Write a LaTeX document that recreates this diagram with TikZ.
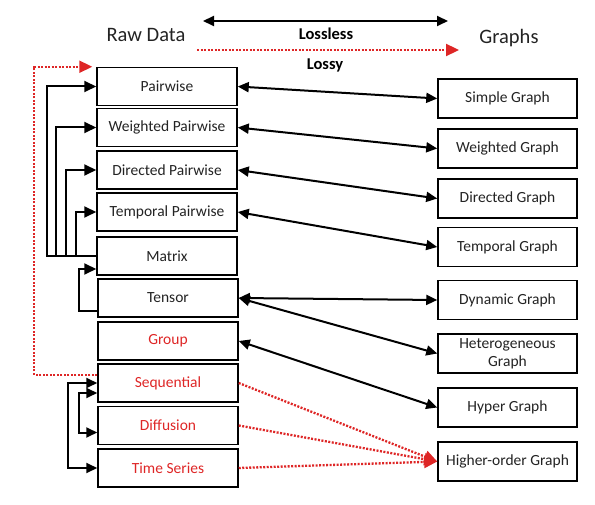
\documentclass[tikz,border=0pt]{standalone}
\usepackage{fontspec}
\setmainfont{Carlito}
\usetikzlibrary{arrows.meta}
\definecolor{lossred}{RGB}{222,38,38}
\definecolor{boxtxt}{RGB}{35,35,35}

\begin{document}
\begin{tikzpicture}[x=1pt,y=-1pt,
  raw/.style={draw,line width=1.5pt,minimum width=140pt,minimum height=38pt,inner sep=0pt,text=boxtxt,font=\fontsize{15.5}{18}\selectfont},
  gph/.style={raw,minimum width=139pt,minimum height=39pt,align=center},
  redtxt/.style={text=lossred},
  conv/.style={line width=2pt,{Triangle[length=11pt,width=10pt]}-{Triangle[length=11pt,width=10pt]}},
  feed/.style={line width=2pt,-{Triangle[length=12pt,width=11pt]}},
  lossy/.style={lossred,line width=2.3pt,dash pattern=on 2pt off 1.5pt,-{Triangle[length=13pt,width=12pt]}}]
  \useasboundingbox (0,0) rectangle (595,505);
  % headers
  \node[font=\fontsize{20.5}{22}\selectfont,text=boxtxt] (hraw) at (146,35) {Raw Data};
  \node[font=\fontsize{20.5}{22}\selectfont,text=boxtxt] (hgph) at (509,38) {Graphs};
  \coordinate (lsl) at (203,21); \coordinate (lsr) at (448,21);
  \coordinate (lyl) at (197,50); \coordinate (lyr) at (459,50);
  \draw[conv] (lsl) -- (lsr);
  \draw[lossy] (lyl) -- (lyr);
  \node[font=\bfseries\fontsize{16.5}{18}\selectfont] (lless) at (326,34) {Lossless};
  \node[font=\bfseries\fontsize{16.5}{18}\selectfont] (lsy) at (325,65) {Lossy};
  % raw data
  \node[raw] (pw) at (167,86.5) {Pairwise};
  \node[raw] (wpw) at (167,127.5) {Weighted Pairwise};
  \node[raw] (dpw) at (167,170) {Directed Pairwise};
  \node[raw] (tpw) at (167,212) {Temporal Pairwise};
  \node[raw] (mat) at (167,256) {Matrix};
  \node[raw] (tns) at (168,298) {Tensor};
  \node[raw,redtxt] (grp) at (168,341) {Group};
  \node[raw,redtxt] (seq) at (168,383) {Sequential};
  \node[raw,redtxt] (dif) at (168,425.5) {Diffusion};
  \node[raw,redtxt] (tsr) at (168,468) {Time Series};
  % graphs
  \node[gph] (sg) at (507.5,98.5) {Simple Graph};
  \node[gph] (wg) at (507.5,148.5) {Weighted Graph};
  \node[gph] (dg) at (507.5,198.5) {Directed Graph};
  \node[gph] (tg) at (507.5,247) {Temporal Graph};
  \node[gph] (dyg) at (507.5,300) {Dynamic Graph};
  \node[gph] (hg) at (507.5,353.5) {Heterogeneous\\Graph};
  \node[gph] (hyg) at (507.5,407.5) {Hyper Graph};
  \node[gph] (hog) at (507.5,461.5) {Higher-order Graph};
  % lossless conversions
  \foreach \a/\b in {pw/sg,wpw/wg,dpw/dg,tpw/tg,tns/dyg,tns/hg,grp/hyg}
    \draw[conv] (\a.east) -- (\b.west);
  % lossy conversions
  \foreach \a in {seq,dif,tsr}
    \draw[lossy] (\a.east) -- (hog.west);
  % matrix feeds
  \foreach \b/\d in {pw/49,wpw/40,dpw/30,tpw/20}
    \draw[feed] (mat.west) -- ++(-\d,0) |- (\b.west);
  \draw[feed] ([yshift=-13pt]tns.west) -- ++(-18,0) |- ([yshift=-13pt]mat.west);
  \draw[conv] (seq.west) -- ++(-29,0) |- (tsr.west);
  \draw[conv] ([yshift=-10pt]seq.west) -- ++(-18,0) |- ([yshift=-7pt]dif.west);
  \draw[lossy] ([yshift=8pt]seq.west) -- ++(-63,0) |- ([xshift=-4pt]pw.north west);
\end{tikzpicture}
\end{document}
